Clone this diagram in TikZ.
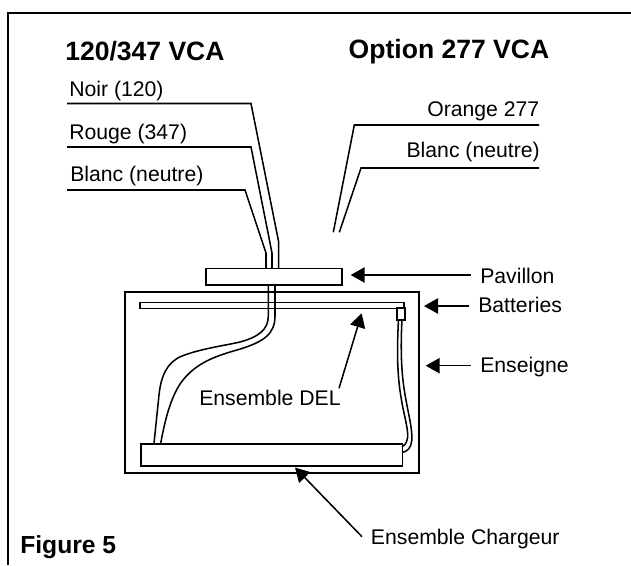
\documentclass[tikz,border=0pt]{standalone}
\usepackage{fontspec}
\setmainfont{Liberation Sans}
\usetikzlibrary{arrows.meta}
\tikzset{
  x=0.75pt,y=-0.75pt,
  wire/.style={line width=1.15pt,line join=miter},
  boxpart/.style={draw,line width=1.25pt,inner sep=0pt,anchor=north west,fill=white},
  lbl/.style={inner sep=0pt,anchor=base west,font=\fontsize{15.9pt}{18pt}\selectfont},
  lblr/.style={inner sep=0pt,anchor=base east,font=\fontsize{15.9pt}{18pt}\selectfont},
  hdr/.style={inner sep=0pt,anchor=base west,font=\fontsize{19.9pt}{22pt}\selectfont\bfseries},
  pointer/.style={line width=1.15pt,-{Triangle[length=10.5pt,width=11.5pt]}},
}
\begin{document}
\begin{tikzpicture}
\useasboundingbox (0,0) rectangle (631,565);
% frame
\coordinate (fbl) at (8,565);
\coordinate (ftl) at (8,13);
\coordinate (ftr) at (631,13);
\draw[line width=1.6pt] (fbl) -- (ftl) -- (ftr);
% headings
\node[hdr] (h1) at (65,60) {120/347 VCA};
\node[hdr,anchor=base east] (h2) at (549.5,58.3) {Option 277 VCA};
\node[hdr,font=\fontsize{18.5pt}{22pt}\selectfont\bfseries] (fig) at (20,553) {Figure 5};
% labels
\node[lbl] (noir) at (69,96) {Noir (120)};
\node[lbl] (rouge) at (69,139.3) {Rouge (347)};
\node[lbl] (blancl) at (70,181.7) {Blanc (neutre)};
\node[lblr] (orange) at (539.5,116) {Orange 277};
\node[lblr] (blancr) at (540,157.3) {Blanc (neutre)};
\node[lbl] (pav) at (480,283) {Pavillon};
\node[lbl] (bat) at (478,312.7) {Batteries};
\node[lbl] (ens) at (480,372.7) {Enseigne};
\node[lbl] (del) at (199,405) {Ensemble DEL};
\node[lbl] (chg) at (370.7,544.3) {Ensemble Chargeur};
% enclosure
\node[boxpart,line width=1.4pt,fill=none,minimum width=220.5pt,minimum height=135.75pt] (encl) at (124,291) {};
% upper wires
\coordinate (n1) at (67,103.5); \coordinate (n2) at (251,103.5); \coordinate (n3) at (278.7,242); \coordinate (n4) at (278.7,268);
\coordinate (r1) at (67,147); \coordinate (r2) at (251,147); \coordinate (r3) at (272,253); \coordinate (r4) at (272,268);
\coordinate (b1) at (67,190); \coordinate (b2) at (245,190); \coordinate (b3) at (266,253); \coordinate (b4) at (266,268);
\draw[wire] (n1) -- (n2) -- (n3) -- (n4);
\draw[wire] (r1) -- (r2) -- (r3) -- (r4);
\draw[wire] (b1) -- (b2) -- (b3) -- (b4);
% 277 wires
\coordinate (o1) at (539,125); \coordinate (o2) at (354.3,125); \coordinate (o3) at (333.3,232.3);
\coordinate (w1) at (539,168); \coordinate (w2) at (361,168); \coordinate (w3) at (339.3,232.3);
\draw[wire] (o1) -- (o2) -- (o3);
\draw[wire] (w1) -- (w2) -- (w3);
% boxes
\node[boxpart,minimum width=102pt,minimum height=12.4pt] (pavbox) at (205,267.5) {};
\node[boxpart,minimum width=198pt,minimum height=4.5pt] (strip) at (139,301.5) {};
\node[boxpart,minimum width=196.3pt,minimum height=16.3pt] (charger) at (140,443.3) {};
\node[boxpart,minimum width=6pt,minimum height=9.2pt] (cell) at (396.3,307) {};
% wires from canopy to charger
\coordinate (u0) at (268.3,284); \coordinate (v0) at (275,284);
\coordinate (u1) at (154,443.3); \coordinate (v1) at (160.7,443.3);
\draw[wire] (u0) -- (268.3,316) .. controls (268.3,330) and (258,337) .. (240,342)
  .. controls (222,346) and (200,349) .. (182,356)
  .. controls (167,362) and (161,376) .. (159,395) -- (u1);
\draw[wire] (v0) -- (275,316) .. controls (275,334) and (264,342) .. (237,350)
  .. controls (212,357) and (196,364) .. (183,380)
  .. controls (171,395) and (165,420) .. (v1);
% wires from cell to charger
\coordinate (p0) at (398.5,319); \coordinate (q0) at (402,319);
\coordinate (p1) at (402,446.8); \coordinate (q1) at (402,452.3);
\draw[wire] (p0) .. controls (397.5,340) and (396,370) .. (401.5,400)
  .. controls (403,411) and (409,431) .. (407.5,438)
  .. controls (406.5,444) and (404,446) .. (p1);
\draw[wire] (q0) .. controls (401,340) and (400,370) .. (406,400)
  .. controls (408,412) and (413,431) .. (411.7,441)
  .. controls (411,448) and (407,452) .. (q1);
% pointers
\coordinate (pt1) at (350.7,275); \coordinate (pf1) at (470.7,275);
\coordinate (pt2) at (424,306); \coordinate (pf2) at (469,306);
\coordinate (pt3) at (425.7,365.7); \coordinate (pf3) at (470.7,365.7);
\coordinate (pt4) at (361.7,313.3); \coordinate (pf4) at (339,388.3);
\coordinate (pt5) at (295,467.5); \coordinate (pf5) at (362,536.7);
\draw[pointer] (pf1) -- (pt1);
\draw[pointer] (pf2) -- (pt2);
\draw[pointer] (pf3) -- (pt3);
\draw[pointer] (pf4) -- (pt4);
\draw[pointer] (pf5) -- (pt5);
\end{tikzpicture}
\end{document}
